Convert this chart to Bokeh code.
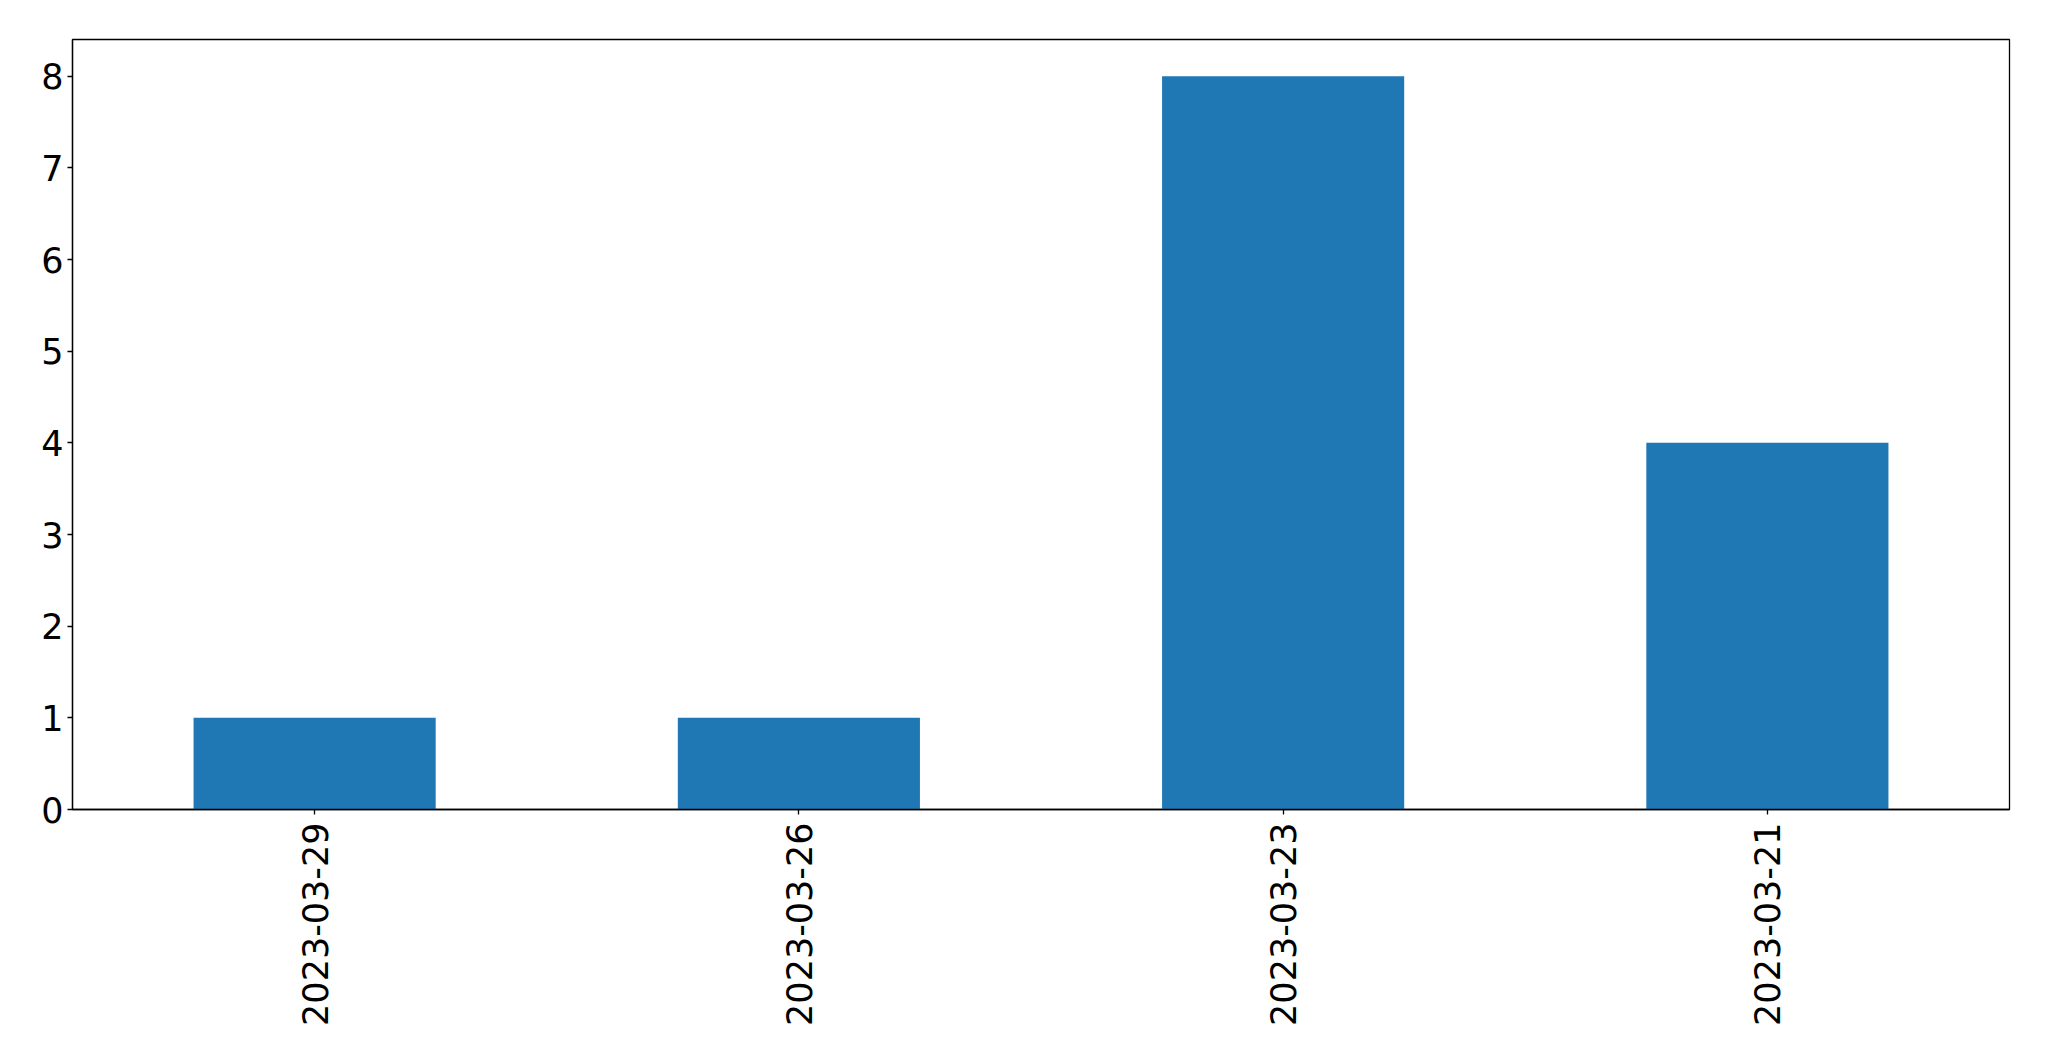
import math
from bokeh.plotting import figure
from bokeh.models import Range1d, FactorRange, ColumnDataSource
from bokeh.embed import file_html
from bokeh.resources import INLINE

dates = ["2023-03-29", "2023-03-26", "2023-03-23", "2023-03-21"]
counts = [1, 1, 8, 4]

src = ColumnDataSource(dict(x=dates, top=counts))

p = figure(x_range=FactorRange(*dates, range_padding=0), y_range=Range1d(0, 8.4),
           width=2033, height=1045, output_backend="svg", toolbar_location=None,
           min_border_left=72, min_border_top=39, min_border_right=24, min_border_bottom=236)

p.vbar(x="x", top="top", width=0.5, bottom=0, source=src, fill_color="#1f77b4", line_color=None)

p.xgrid.visible = False
p.ygrid.visible = False
p.outline_line_color = "black"
p.outline_line_width = 1.3
p.outline_line_alpha = 1
p.background_fill_color = "white"
p.border_fill_color = "white"

for ax in (p.xaxis[0], p.yaxis[0]):
    ax.axis_line_color = "black"
    ax.axis_line_width = 1.3
    ax.major_tick_line_color = "black"
    ax.major_tick_line_width = 1.3
    ax.major_tick_out = 5
    ax.major_tick_in = 0
    ax.minor_tick_line_color = None
    ax.major_label_text_font = "DejaVu Sans"
    ax.major_label_text_font_size = "35px"
    ax.major_label_text_color = "black"

p.yaxis[0].ticker = [0, 1, 2, 3, 4, 5, 6, 7, 8]
p.yaxis[0].major_label_standoff = 4
p.xaxis[0].major_label_orientation = math.pi / 2
p.xaxis[0].major_label_standoff = 8

open("out.html", "w").write(file_html(p, INLINE))
